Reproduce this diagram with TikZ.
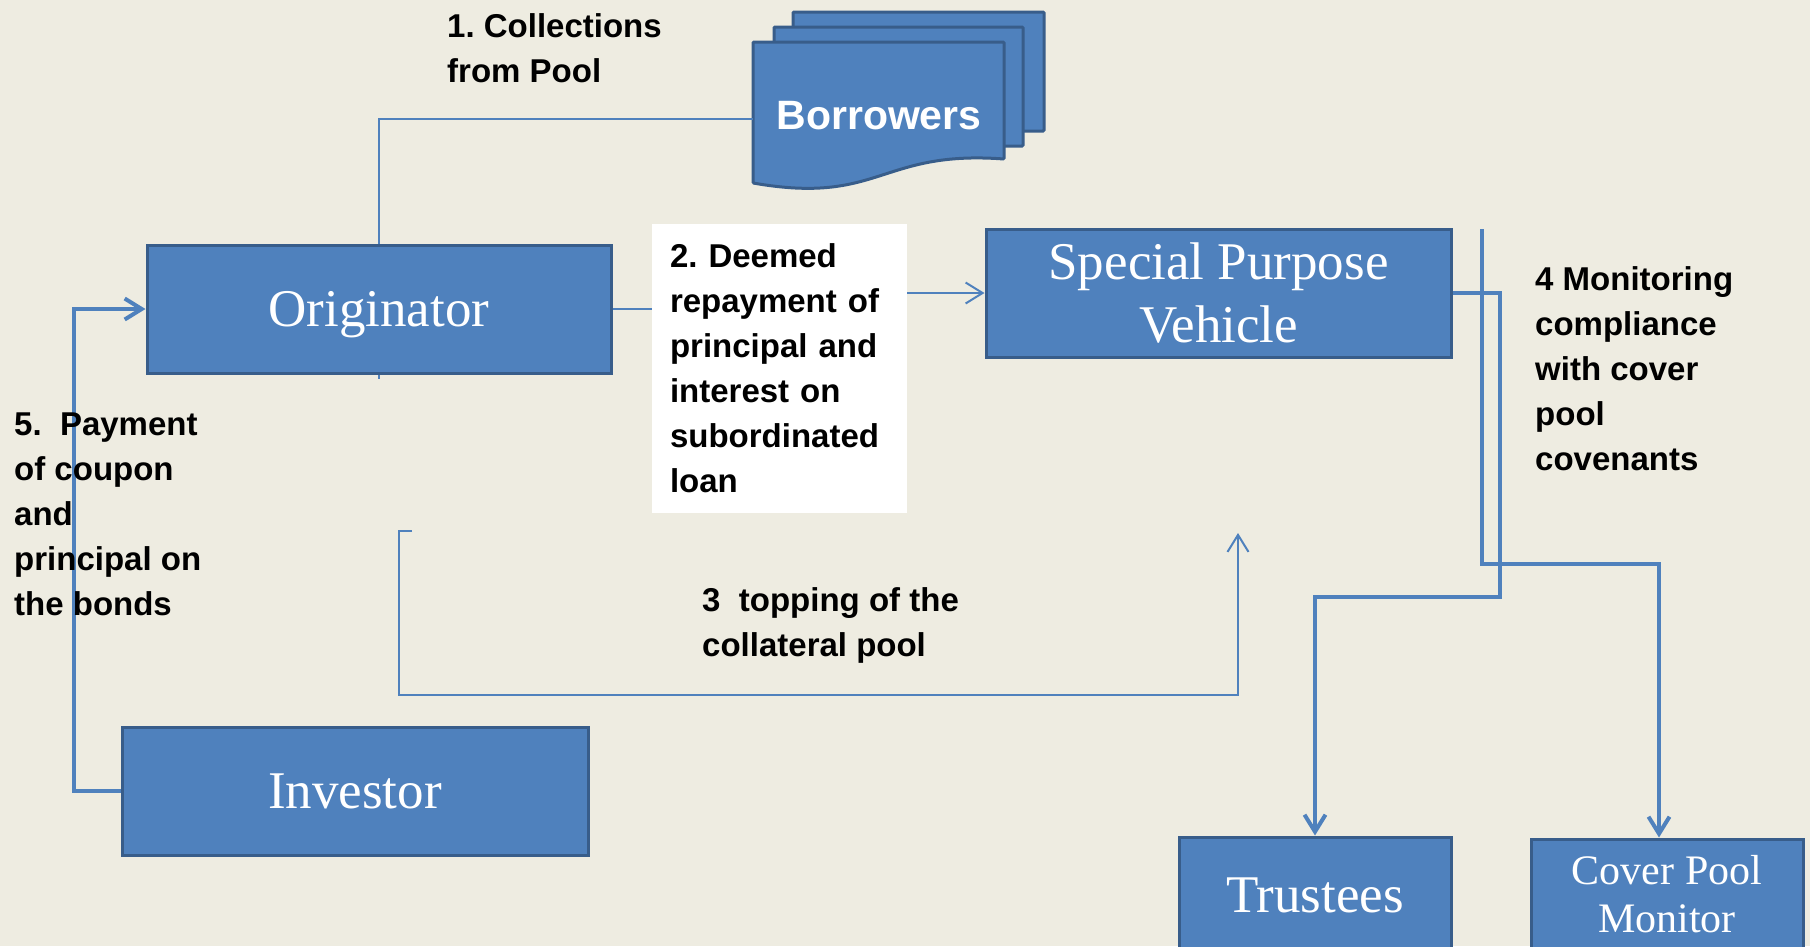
\documentclass[tikz,border=0pt]{standalone}
\usepackage{fontspec}
\setmainfont{Liberation Serif}
\setsansfont{Liberation Sans}
\usetikzlibrary{arrows.meta}
\frenchspacing

\definecolor{bgTan}{RGB}{238,236,225}
\definecolor{boxFill}{RGB}{79,129,189}
\definecolor{boxEdge}{RGB}{56,93,138}
\definecolor{flowBlue}{RGB}{79,129,189}

\begin{document}
\begin{tikzpicture}[
  x=1pt, y=-1pt,
  box/.style={draw=boxEdge, fill=boxFill, line width=3pt, text=white, align=center, inner sep=0pt, font=\fontsize{53}{63}\selectfont},
  sheet/.style={draw=boxEdge, fill=boxFill, line width=3pt, rounded corners=1pt},
  note/.style={anchor=base west, align=left, inner sep=0pt, font=\sffamily\bfseries\fontsize{33}{45}\selectfont},
  flowthin/.style={draw=flowBlue, line width=2pt},
  flowthick/.style={draw=flowBlue, line width=4pt},
  openhead/.style={-{Straight Barb[length=17pt,width=21pt]}}
]

% Page and background
\useasboundingbox (0,0) rectangle (1810,946);
\fill[bgTan] (0,0) rectangle (1810,946);

% Borrowers (stack of documents)
\draw[sheet] (793,12) rectangle (1044,131);
\draw[sheet] (774,27) rectangle (1023,146);
\draw[sheet] (753,42) -- (1004,42) -- (1004,159) .. controls (880,150) and (880,205) .. (753,183) -- cycle;
\node[text=white, font=\sffamily\bfseries\fontsize{41}{49}\selectfont] (bor) at (879,116) {Borrowers};
\coordinate (borIn) at (753,119);

% Parties
\node[box, minimum width=464pt, minimum height=128pt, text depth=0pt] (orig) at (379,309) {Originator};
\node[box, minimum width=465pt, minimum height=128pt] (spv) at (1218.5,293) {Special Purpose\\Vehicle};
\node[box, minimum width=466pt, minimum height=128pt] (inv) at (355,791) {Investor};
\node[box, minimum width=272pt, minimum height=116pt] (trust) at (1315,895) {Trustees};
\node[box, minimum width=272pt, minimum height=110pt, font=\fontsize{42}{48}\selectfont] (cpm) at (1667,894) {Cover Pool\\Monitor};

% Step 2 label box
\node[note, fill=white, anchor=center, minimum width=255pt, minimum height=289pt, text width=219pt] (lab2) at (779.5,368.5) {2. Deemed\\repayment of\\principal and\\interest on\\subordinated\\loan};

% 1. collections
\draw[flowthin] (borIn) -| (orig.north);
\draw[flowthin] (orig.south) -- ++(0,4);

% 2. deemed repayment
\draw[flowthin] (orig.east) -- (orig.east -| lab2.west);
\draw[flowthin, openhead] (lab2.east |- spv.west) -- (spv.west);

% 3. topping up
\coordinate (topStart) at (412,531);
\coordinate (topEnd) at (1238,533);
\draw[flowthin, openhead] (topStart) -- ++(-13,0) -- ++(0,164) -| (topEnd);

% 4. monitoring
\coordinate (monTop) at (1482,229);
\draw[flowthick, openhead] (monTop) -- ++(0,335) -| ([xshift=-8pt]cpm.north);
\draw[flowthick, openhead] (spv.east) -- ++(47,0) -- ++(0,304) -| (trust.north);

% 5. coupon and principal
\draw[flowthick, openhead] (inv.west) -- ++(-47,0) |- (orig.west);

% Labels (base = last line)
\node[note] (lab1) at (447,82) {1. Collections\\from Pool};
\node[note] (lab3) at (702,656) {3\ \ topping of the\\collateral pool};
\node[note] (lab4) at (1535,470) {4 Monitoring\\compliance\\with cover\\pool\\covenants};
\node[note] (lab5) at (14,615) {5.\ \ Payment\\of coupon\\and\\principal on\\the bonds};

\end{tikzpicture}
\end{document}
